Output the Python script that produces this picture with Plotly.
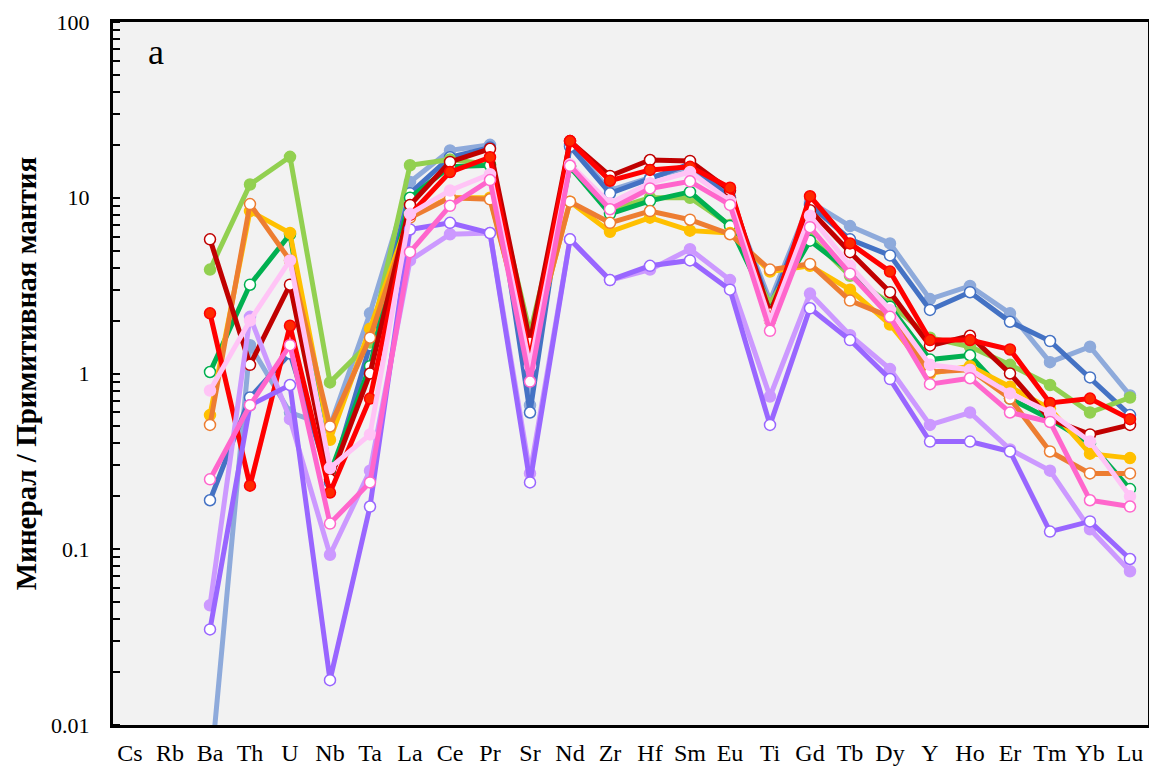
import plotly.graph_objects as go

elements = ["Cs", "Rb", "Ba", "Th", "U", "Nb", "Ta", "La", "Ce", "Pr", "Sr", "Nd", "Zr",
            "Hf", "Sm", "Eu", "Ti", "Gd", "Tb", "Dy", "Y", "Ho", "Er", "Tm", "Yb", "Lu"]
tick_vals = [0.01, 0.1, 1, 10, 100]
tick_text = ["0.01", "0.1", "1", "10", "100"]
minor_tick_vals = [m * d for d in [0.01, 0.1, 1, 10] for m in range(1, 10)] + [100]

# values for Ba..Lu (Cs, Rb not analysed)
s_lsb = [0.005, 1.45, 0.6, 0.5, 2.2, 12.3, 18.6, 20, 0.66, 20, 11, 13, 15, 10, 2.6, 9.5, 6.9, 5.5, 2.65, 3.15, 2.2, 1.16, 1.42, 0.75]
s_blue = [0.19, 0.73, 1.3, 0.24, 1.45, 10.6, 17, 19.3, 0.6, 19.6, 10.6, 12.8, 15.6, 10, 2.4, 9.1, 5.8, 4.7, 2.3, 2.9, 1.97, 1.53, 0.95, 0.58]
s_lgreen = [3.9, 11.9, 17.1, 0.89, 1.5, 15.3, 16.5, 15.5, 1.7, 15, 8.5, 10, 10, 7, 2.5, 6, 3.6, 2.5, 1.6, 1.42, 1.12, 0.86, 0.6, 0.73]
s_green = [1.02, 3.2, 6.2, 0.27, 1.1, 10, 15, 15.3, 1.3, 15, 8.1, 9.6, 10.8, 6.9, 2.3, 5.7, 3.8, 2.4, 1.2, 1.27, 0.72, 0.55, 0.4, 0.22]
s_gold = [0.58, 8.4, 6.3, 0.42, 1.8, 8, 10, 10, 1.3, 9.5, 6.4, 7.7, 6.5, 6.3, 3.8, 4.1, 3.0, 1.9, 1.0, 1.1, 0.84, 0.63, 0.35, 0.33]
s_orange = [0.51, 9.2, 4.4, 0.5, 1.6, 7.7, 10, 9.8, 1.3, 9.5, 7.2, 8.4, 7.5, 6.2, 3.9, 4.2, 2.6, 2.1, 1.02, 1.05, 0.72, 0.36, 0.27, 0.27]
s_dred = [5.8, 1.12, 3.2, 0.25, 1.0, 9.1, 16, 19, 1.5, 21, 13.3, 16.4, 16.2, 11, 2.2, 8.5, 4.9, 2.9, 1.44, 1.64, 1.0, 0.55, 0.45, 0.51]
s_red = [2.2, 0.23, 1.87, 0.21, 0.72, 8, 14, 17, 1.2, 21, 12.5, 14.4, 15, 11.4, 2.0, 10.2, 5.5, 3.8, 1.55, 1.55, 1.37, 0.68, 0.72, 0.55]
s_lavender = [0.048, 2.1, 0.55, 0.093, 0.28, 4.4, 6.2, 6.3, 0.27, 5.8, 3.4, 3.9, 5.1, 3.4, 0.74, 2.85, 1.65, 1.06, 0.51, 0.6, 0.37, 0.28, 0.13, 0.075]
s_purple = [0.035, 0.66, 0.86, 0.018, 0.175, 6.6, 7.2, 6.3, 0.24, 5.8, 3.4, 4.1, 4.4, 3.0, 0.51, 2.35, 1.55, 0.93, 0.41, 0.41, 0.36, 0.126, 0.144, 0.088]
s_lpink = [0.8, 2.0, 4.4, 0.29, 0.45, 8.1, 11, 13.6, 1.1, 15.5, 9.3, 12.1, 14, 9.6, 2.0, 7.9, 4.1, 2.3, 1.12, 1.05, 0.77, 0.6, 0.41, 0.2]
s_pink = [0.25, 0.66, 1.45, 0.14, 0.24, 4.9, 9, 12.6, 0.9, 15.2, 8.6, 11.3, 12.4, 9.1, 1.75, 6.8, 3.7, 2.1, 0.87, 0.94, 0.6, 0.53, 0.19, 0.175]

series = [
    (s_lsb, "#8eaadb", True),
    (s_blue, "#4472c4", False),
    (s_lgreen, "#92d050", True),
    (s_green, "#00b050", False),
    (s_gold, "#ffc000", True),
    (s_orange, "#ed7d31", False),
    (s_dred, "#c00000", False),
    (s_red, "#ff0000", True),
    (s_lavender, "#cc99ff", True),
    (s_purple, "#9966ff", False),
    (s_lpink, "#ffc4f6", True),
    (s_pink, "#ff66cc", False),
]

fig = go.Figure()
for vals, col, filled in series:
    y = [None, None] + vals
    mcol = col if filled else "white"
    if col == "#ff0000":
        mcol = "#ff2a00"
    fig.add_trace(go.Scatter(
        x=elements, y=y, mode="lines+markers",
        line=dict(color=col, width=5),
        marker=dict(size=11, color=mcol, line=dict(color=col, width=1.5)),
        showlegend=False, connectgaps=False,
    ))

font_fam = "Liberation Serif, Times New Roman, serif"
fig.update_layout(
    width=1149, height=765,
    margin=dict(l=105, r=9, t=14, b=48),
    paper_bgcolor="white", plot_bgcolor="#f2f2f2",
    font=dict(family=font_fam, size=24, color="black"),
    xaxis=dict(type="category", categoryorder="array", categoryarray=elements,
               range=[-0.425, 25.45], showgrid=False, zeroline=False, automargin=False,
               showline=True, linecolor="black", linewidth=3, mirror=True,
               ticks="outside", ticklen=4, tickcolor="rgba(0,0,0,0)",
               tickfont=dict(size=24, family=font_fam)),
    yaxis=dict(type="log", range=[-2, 2], showgrid=False, zeroline=False, automargin=False,
               showline=True, linecolor="black", linewidth=3, mirror=True,
               tickvals=tick_vals, ticktext=tick_text, ticklabeloverflow="allow",
               ticks="outside", ticklen=16, tickwidth=1, tickcolor="rgba(0,0,0,0)",
               minor=dict(ticks="inside", ticklen=7, tickwidth=1.5, tickcolor="black",
                          tickvals=minor_tick_vals, showgrid=False),
               tickfont=dict(size=22, family=font_fam),
               title=dict(text="<b>Минерал / Примитивная мантия</b>",
                          font=dict(size=29, family=font_fam), standoff=6)),
)
fig.add_annotation(x=0.042, y=0.957, xref="paper", yref="paper", text="a",
                   showarrow=False, font=dict(size=36, family=font_fam),
                   xanchor="center", yanchor="middle")
fig.write_html("out.html")
